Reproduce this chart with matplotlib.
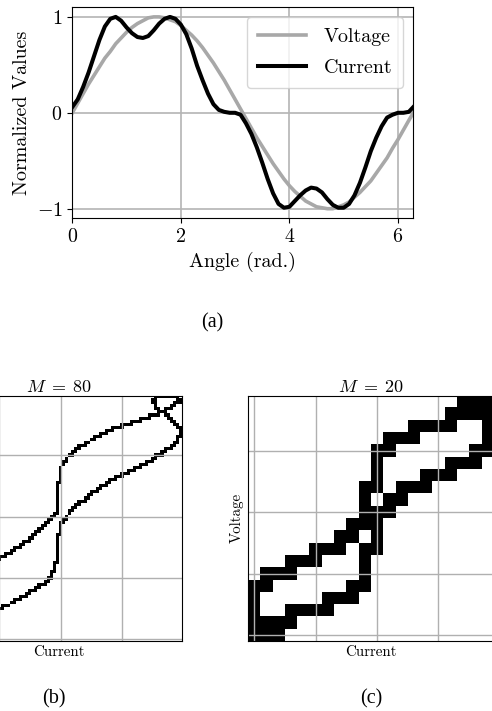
import numpy as np
import matplotlib.pyplot as plt

plt.rcParams['font.family'] = 'serif'
plt.rcParams['font.serif'] = ['cmr10']
plt.rcParams['mathtext.fontset'] = 'cm'
plt.rcParams['axes.formatter.use_mathtext'] = True

# sample angles: every 0.1 rad, plus the end of the period
angle = np.append(np.arange(0, 6.25, 0.1), 2 * np.pi)

voltage = [0.00, 0.10, 0.20, 0.30, 0.39, 0.48, 0.57, 0.64, 0.72, 0.78,
           0.84, 0.89, 0.93, 0.96, 0.99, 1.00, 1.00, 0.99, 0.97, 0.95,
           0.91, 0.86, 0.81, 0.75, 0.68, 0.60, 0.52, 0.43, 0.34, 0.24,
           0.14, 0.04, -0.06, -0.16, -0.26, -0.35, -0.44, -0.53, -0.61, -0.69,
           -0.76, -0.82, -0.87, -0.92, -0.95, -0.98, -0.99, -1.00, -1.00, -0.98,
           -0.96, -0.93, -0.88, -0.83, -0.77, -0.71, -0.63, -0.55, -0.47, -0.37,
           -0.28, -0.18, -0.08, 0.00]

current = [0.06, 0.14, 0.27, 0.42, 0.59, 0.76, 0.90, 0.98, 1.00, 0.96,
           0.89, 0.83, 0.79, 0.78, 0.80, 0.86, 0.93, 0.98, 1.00, 0.98,
           0.92, 0.82, 0.67, 0.49, 0.34, 0.20, 0.09, 0.03, 0.01, 0.00,
           0.00, -0.02, -0.11, -0.22, -0.36, -0.52, -0.69, -0.84, -0.95, -0.99,
           -0.98, -0.92, -0.86, -0.81, -0.78, -0.79, -0.83, -0.90, -0.96, -0.99,
           -0.99, -0.95, -0.86, -0.73, -0.57, -0.40, -0.26, -0.14, -0.05, -0.02,
           0.00, 0.00, 0.01, 0.06]

# V-I image for M = 20, read cell by cell (top row first, '#' = black)
vi_20 = [
    '.................###',
    '................####',
    '.............####..#',
    '...........###.....#',
    '..........##......##',
    '..........#.....###.',
    '..........#...###...',
    '.........##.###.....',
    '.........#.##.......',
    '.........###........',
    '........###.........',
    '.......##.#.........',
    '.....###.##.........',
    '...###...#..........',
    '.###.....#..........',
    '##......##..........',
    '#.....###...........',
    '#..####.............',
    '####................',
    '###.................',
]


def vi_image(i_vals, v_vals, m):
    # rasterise the V-I trajectory onto an m x m grid
    i_arr = np.asarray(i_vals)
    v_arr = np.asarray(v_vals)
    k = np.arange(len(i_arr))
    fine = np.linspace(0, len(i_arr) - 1, 6000)
    ii = np.interp(fine, k, i_arr)
    vv = np.interp(fine, k, v_arr)
    cols = np.rint((ii - ii.min()) / (ii.max() - ii.min()) * (m - 1)).astype(int)
    rows = np.rint((vv - vv.min()) / (vv.max() - vv.min()) * (m - 1)).astype(int)
    img = np.zeros((m, m))
    img[rows, cols] = 1
    return img


img_80 = vi_image(current, voltage, 80)
img_20 = np.array([[c == '#' for c in row] for row in vi_20], dtype=float)[::-1]

W, H = 492, 711
fig = plt.figure(figsize=(W / 100, H / 100), dpi=100)

# (a) waveforms
ax = fig.add_axes([72.3 / W, 1 - 218.3 / H, 341 / W, 211 / H])
ax.plot(angle, voltage, color='#a8a8a8', lw=2.6, label='Voltage')
ax.plot(angle, current, color='black', lw=2.9, label='Current')
ax.set_xlim(0, 2 * np.pi)
ax.set_ylim(-1.1, 1.1)
ax.set_xticks([0, 2, 4, 6])
ax.set_yticks([-1, 0, 1])
ax.grid(True, color='#b4b4b4', lw=1.2)
ax.tick_params(labelsize=14.4)
ax.set_xlabel('Angle (rad.)', fontsize=14.4)
ax.set_ylabel('Normalized Values', fontsize=14.4)
ax.legend(loc='upper right', fontsize=14.4, handlelength=2.4,
          handletextpad=0.9, labelspacing=0.65, borderpad=0.55)

# (b) and (c) V-I images
for left, img, m, ylab in [(-63.6, img_80, 80, False), (248.3, img_20, 20, True)]:
    axi = fig.add_axes([left / W, 1 - 641 / H, 245.3 / W, 245.3 / H])
    axi.imshow(img, cmap='gray_r', origin='lower', interpolation='nearest',
               vmin=0, vmax=1, aspect='auto')
    ticks = np.arange(0, m, m // 4)
    axi.set_xticks(ticks)
    axi.set_yticks(ticks)
    axi.tick_params(length=0, labelbottom=False, labelleft=False)
    axi.grid(True, color='#b0b0b0', lw=1.0)
    axi.set_xlabel('Current', fontsize=10.8, labelpad=3)
    if ylab:
        axi.set_ylabel('Voltage', fontsize=10.8, labelpad=3)
    axi.set_title(f'$M\\;=\\;{m}$', fontsize=13, pad=3)

for x, y, s in [(212, 322.5, '(a)'), (54, 698.5, '(b)'), (371, 698.5, '(c)')]:
    fig.text(x / W, 1 - y / H, s, ha='center', va='center',
             family='Liberation Serif', fontsize=14.5)

fig.savefig('out.png', dpi=100)
